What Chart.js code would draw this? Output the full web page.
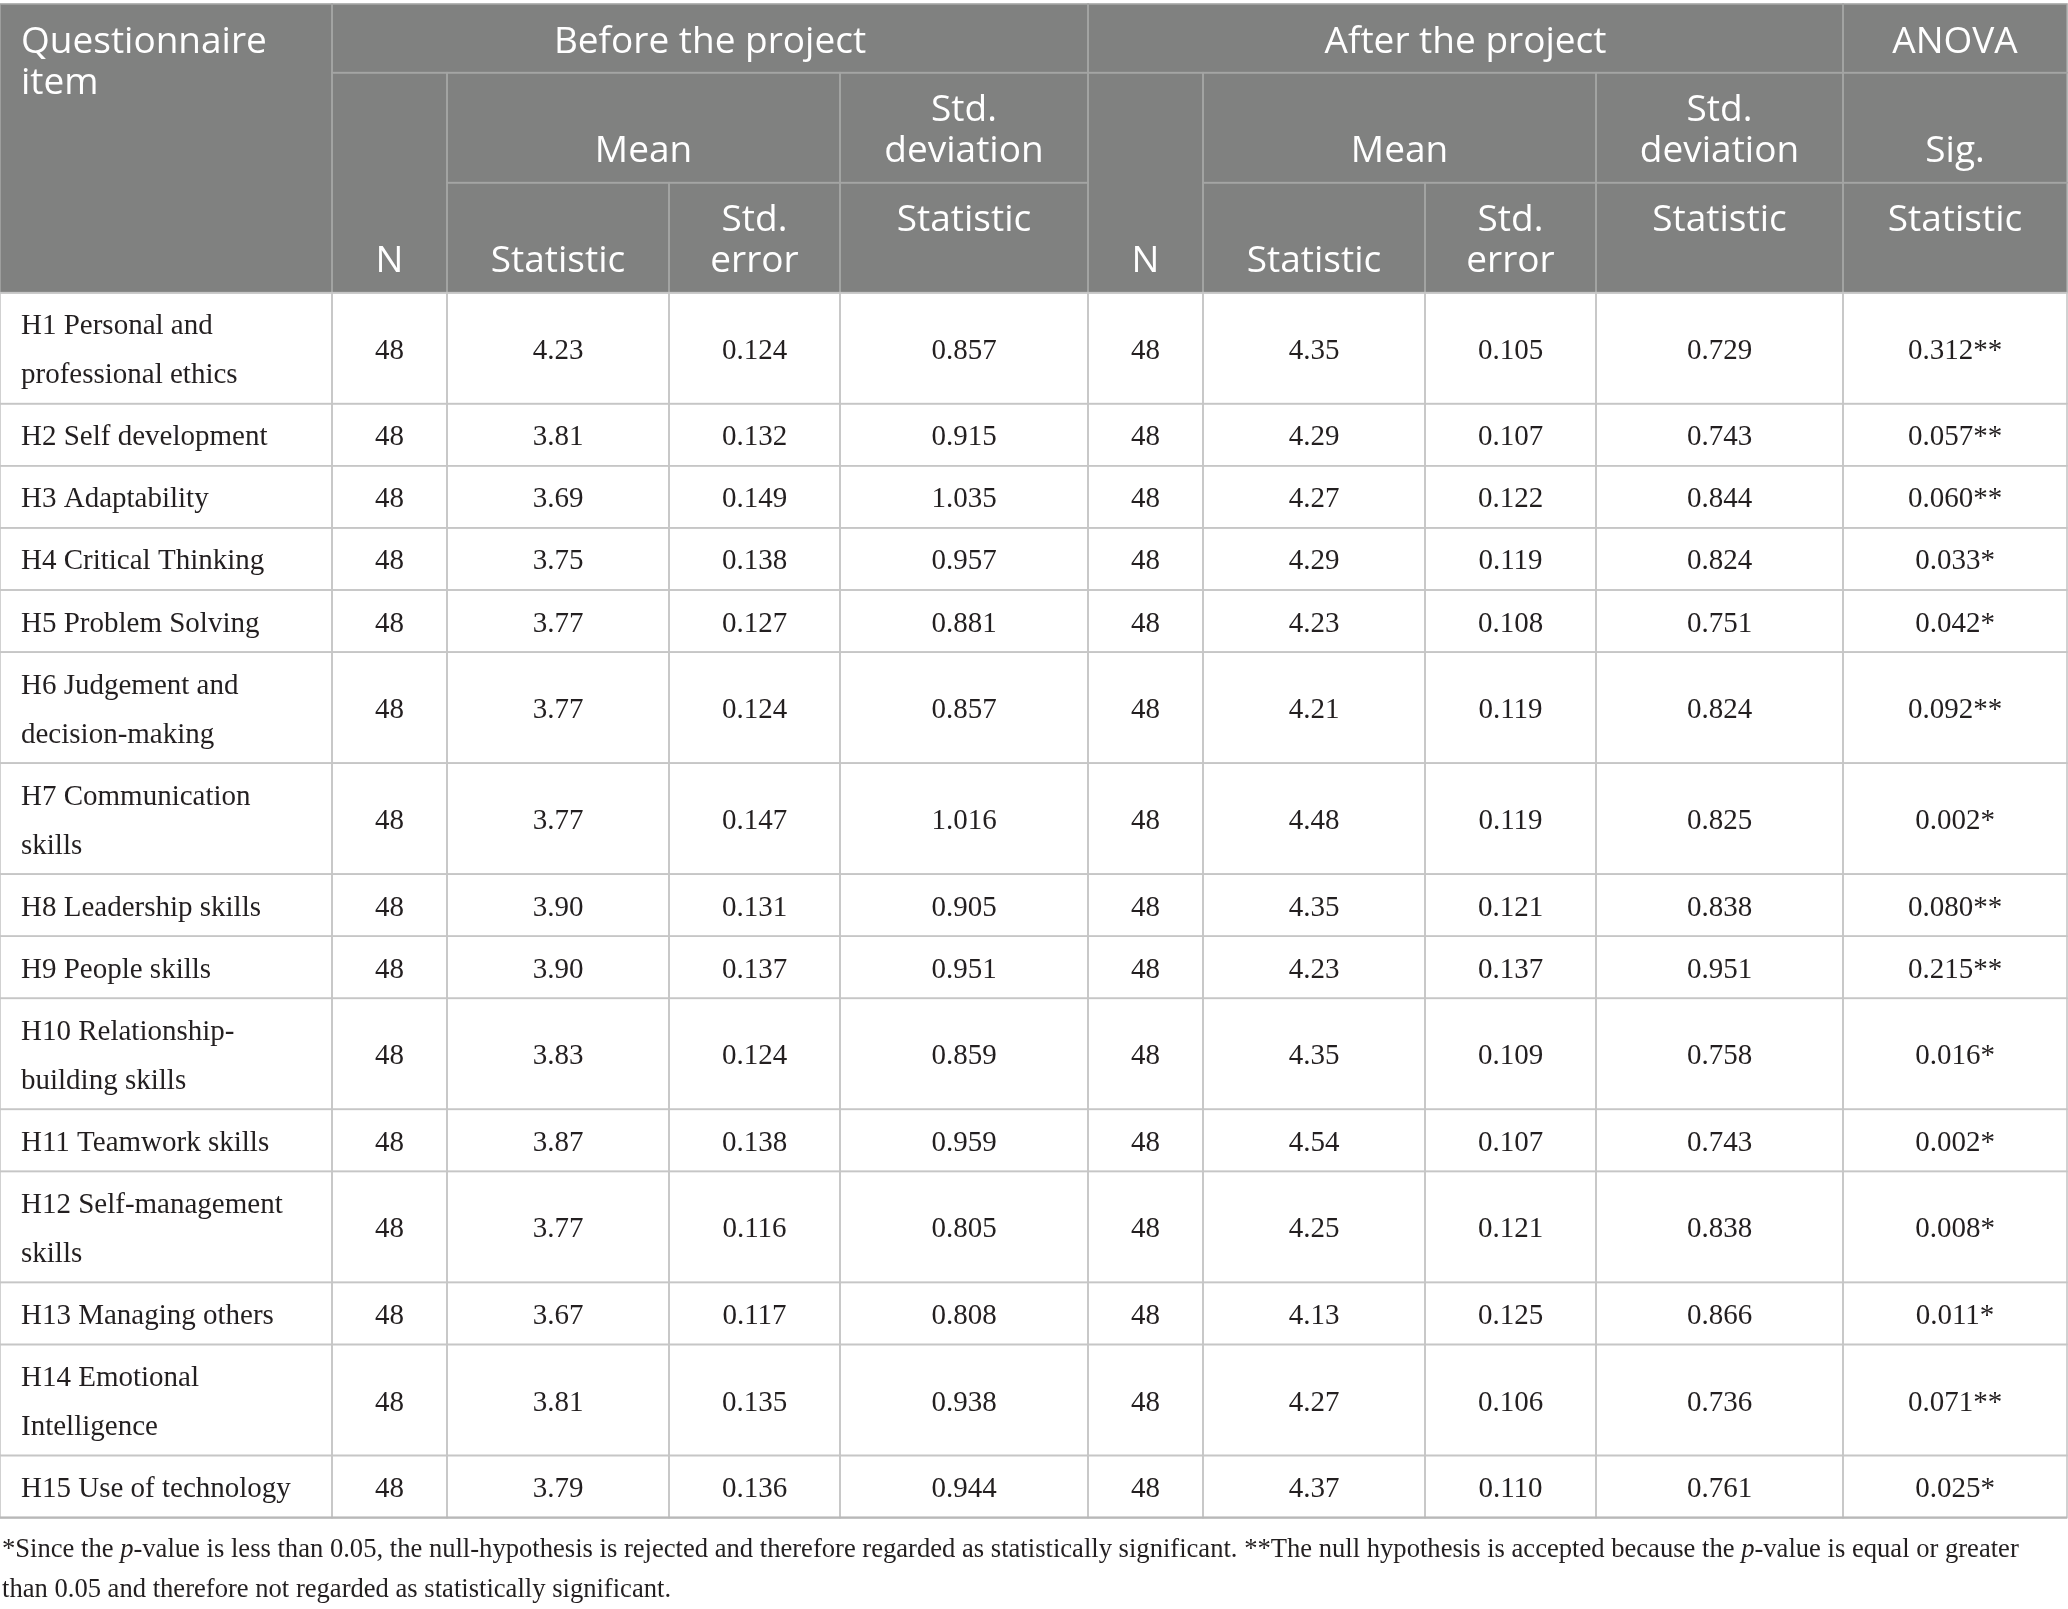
<!DOCTYPE html>
<html>
<head>
<meta charset="utf-8">
<script src="https://cdn.jsdelivr.net/npm/chart.js@4.4.1/dist/chart.umd.min.js"></script>
<style>
html,body{margin:0;padding:0;background:#ffffff;}
#wrap{width:2068px;height:1609px;position:relative;}
</style>
</head>
<body>
<div id="wrap"><canvas id="c"></canvas></div>
<script>
// ---------- DATA ----------
const items = [
  "H1 Personal and\nprofessional ethics",
  "H2 Self development",
  "H3 Adaptability",
  "H4 Critical Thinking",
  "H5 Problem Solving",
  "H6 Judgement and\ndecision-making",
  "H7 Communication\nskills",
  "H8 Leadership skills",
  "H9 People skills",
  "H10 Relationship-\nbuilding skills",
  "H11 Teamwork skills",
  "H12 Self-management\nskills",
  "H13 Managing others",
  "H14 Emotional\nIntelligence",
  "H15 Use of technology"
];
const nBefore    = [48,48,48,48,48,48,48,48,48,48,48,48,48,48,48];
const meanBefore = [4.23,3.81,3.69,3.75,3.77,3.77,3.77,3.90,3.90,3.83,3.87,3.77,3.67,3.81,3.79];
const seBefore   = [0.124,0.132,0.149,0.138,0.127,0.124,0.147,0.131,0.137,0.124,0.138,0.116,0.117,0.135,0.136];
const sdBefore   = [0.857,0.915,1.035,0.957,0.881,0.857,1.016,0.905,0.951,0.859,0.959,0.805,0.808,0.938,0.944];
const nAfter     = [48,48,48,48,48,48,48,48,48,48,48,48,48,48,48];
const meanAfter  = [4.35,4.29,4.27,4.29,4.23,4.21,4.48,4.35,4.23,4.35,4.54,4.25,4.13,4.27,4.37];
const seAfter    = [0.105,0.107,0.122,0.119,0.108,0.119,0.119,0.121,0.137,0.109,0.107,0.121,0.125,0.106,0.110];
const sdAfter    = [0.729,0.743,0.844,0.824,0.751,0.824,0.825,0.838,0.951,0.758,0.743,0.838,0.866,0.736,0.761];
const sigValue   = [0.312,0.057,0.060,0.033,0.042,0.092,0.002,0.080,0.215,0.016,0.002,0.008,0.011,0.071,0.025];
const sigMark    = ["**","**","**","*","*","**","*","**","**","*","*","*","*","**","*"];

// header labels: [text, firstCol, lastCol, firstRow, lastRow, align, valign]
const headerCells = [
  ["Questionnaire\nitem", 0, 0, 0, 2, "left", "top"],
  ["Before the project", 1, 4, 0, 0, "center", "top"],
  ["After the project", 5, 8, 0, 0, "center", "top"],
  ["ANOVA", 9, 9, 0, 0, "center", "top"],
  ["N", 1, 1, 1, 2, "center", "bottom"],
  ["Mean", 2, 3, 1, 1, "center", "bottom"],
  ["Std.\ndeviation", 4, 4, 1, 1, "center", "bottom"],
  ["N", 5, 5, 1, 2, "center", "bottom"],
  ["Mean", 6, 7, 1, 1, "center", "bottom"],
  ["Std.\ndeviation", 8, 8, 1, 1, "center", "bottom"],
  ["Sig.", 9, 9, 1, 1, "center", "bottom"],
  ["Statistic", 2, 2, 2, 2, "center", "bottom"],
  ["Std.\nerror", 3, 3, 2, 2, "center", "bottom"],
  ["Statistic", 4, 4, 2, 2, "center", "top"],
  ["Statistic", 6, 6, 2, 2, "center", "bottom"],
  ["Std.\nerror", 7, 7, 2, 2, "center", "bottom"],
  ["Statistic", 8, 8, 2, 2, "center", "top"],
  ["Statistic", 9, 9, 2, 2, "center", "top"]
];

const footLines = [
  [["*Since the ", false], ["p", true], ["-value is less than 0.05, the null-hypothesis is rejected and therefore regarded as statistically significant. **The null hypothesis is accepted because the ", false], ["p", true], ["-value is equal or greater", false]],
  [["than 0.05 and therefore not regarded as statistically significant.", false]]
];

// ---------- LAYOUT ----------
const W = 2068, H = 1609;
const colEdges = [0, 332, 447, 669, 840, 1088, 1203, 1425, 1596, 1843, 2067];
const headerEdges = [4, 72.7, 182.7, 292.7];
const singleH = 62.1, doubleH = 111, bodyLineGap = 49;
const headFont = '37px "Open Sans"';
const bodyFont = '29px "Liberation Serif"';
const footSize = 26.6;
const footBase = [1557, 1597];
const headBg = '#808180', headLine = '#a4a5a4', bodyLine = '#c6c6c6', textCol = '#231f20';

function fmt(v, d){ return v.toFixed(d); }

const tablePlugin = {
  id: 'tablePlugin',
  afterDraw(chart){
    const ctx = chart.ctx;
    const xs = chart.scales.x, ys = chart.scales.y;
    const X = v => xs.getPixelForValue(v);
    const Y = v => ys.getPixelForValue(v);
    ctx.save();

    // header background
    ctx.fillStyle = headBg;
    ctx.fillRect(X(colEdges[0]), Y(headerEdges[0]), X(colEdges[10]) - X(colEdges[0]), Y(headerEdges[3]) - Y(headerEdges[0]));

    // header cells
    ctx.font = headFont;
    ctx.textBaseline = 'alphabetic';
    headerCells.forEach(hc => {
      const [txt, c0, c1, r0, r1, align, valign] = hc;
      const x0 = X(colEdges[c0]), x1 = X(colEdges[c1 + 1]);
      const y0 = Y(headerEdges[r0]), y1 = Y(headerEdges[r1 + 1]);
      ctx.strokeStyle = headLine;
      ctx.lineWidth = 1.6;
      ctx.strokeRect(x0, y0, x1 - x0, y1 - y0);
      const lines = txt.split('\n');
      ctx.fillStyle = '#ffffff';
      lines.forEach((ln, j) => {
        let by;
        if (valign === 'top') by = y0 + 48.5 + j * 41.5;
        else by = y1 - 20.5 - (lines.length - 1 - j) * 41.5;
        if (align === 'left') { ctx.textAlign = 'left'; ctx.fillText(ln, x0 + 21, by); }
        else { ctx.textAlign = 'center'; ctx.fillText(ln, (x0 + x1) / 2, by); }
      });
    });

    // body rows
    ctx.font = bodyFont;
    let top = headerEdges[3];
    items.forEach((label, i) => {
      const lines = label.split('\n');
      const h = lines.length > 1 ? doubleH : singleH;
      const yTop = Y(top), yBot = Y(top + h);
      const mid = (yTop + yBot) / 2;
      const cells = [
        null,
        String(nBefore[i]), fmt(meanBefore[i], 2), fmt(seBefore[i], 3), fmt(sdBefore[i], 3),
        String(nAfter[i]), fmt(meanAfter[i], 2), fmt(seAfter[i], 3), fmt(sdAfter[i], 3),
        fmt(sigValue[i], 3) + sigMark[i]
      ];
      for (let c = 0; c < 10; c++) {
        const x0 = X(colEdges[c]), x1 = X(colEdges[c + 1]);
        ctx.strokeStyle = bodyLine;
        ctx.lineWidth = 1.6;
        ctx.strokeRect(x0, yTop, x1 - x0, yBot - yTop);
        ctx.fillStyle = textCol;
        if (c === 0) {
          ctx.textAlign = 'left';
          lines.forEach((ln, j) => {
            const cy = mid + (j - (lines.length - 1) / 2) * bodyLineGap;
            ctx.fillText(ln, x0 + 21, cy + 10.5);
          });
        } else {
          ctx.textAlign = 'center';
          ctx.fillText(cells[c], (x0 + x1) / 2, mid + 10.5);
        }
      }
      top += h;
    });
    // bottom border of table
    ctx.strokeStyle = '#b8b8b8';
    ctx.lineWidth = 2.2;
    ctx.beginPath();
    ctx.moveTo(X(colEdges[0]), Y(top));
    ctx.lineTo(X(colEdges[10]), Y(top));
    ctx.stroke();

    // footnote
    ctx.textAlign = 'left';
    ctx.fillStyle = textCol;
    footLines.forEach((runs, li) => {
      let x = X(2);
      runs.forEach(([t, it]) => {
        ctx.font = (it ? 'italic ' : '') + footSize + 'px "Liberation Serif"';
        ctx.fillText(t, x, Y(footBase[li]));
        x += ctx.measureText(t).width;
      });
    });
    ctx.restore();
  }
};

new Chart(document.getElementById('c'), {
  type: 'scatter',
  data: { datasets: [] },
  options: {
    responsive: true,
    maintainAspectRatio: false,
    animation: false,
    devicePixelRatio: 1,
    layout: { padding: 0 },
    plugins: { legend: { display: false }, tooltip: { enabled: false }, title: { display: false } },
    scales: {
      x: { type: 'linear', min: 0, max: W, display: false },
      y: { type: 'linear', min: 0, max: H, reverse: true, display: false }
    }
  },
  plugins: [tablePlugin]
});
</script>
</body>
</html>
